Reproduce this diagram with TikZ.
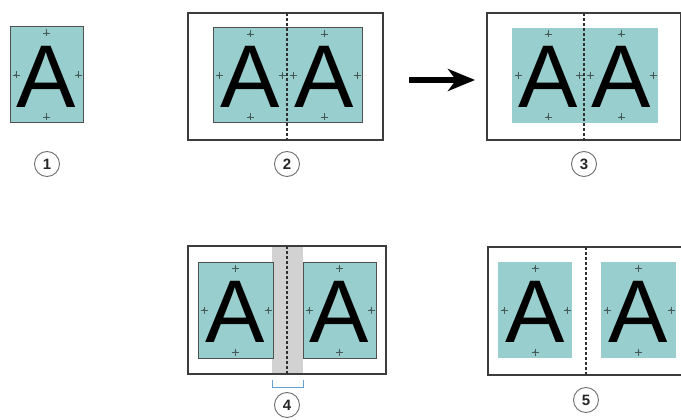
\documentclass[tikz,border=0pt]{standalone}
\usepackage{fontspec}
\setmainfont{Liberation Sans}
\usetikzlibrary{arrows.meta}
\definecolor{tealf}{RGB}{152,206,206}
\definecolor{markc}{RGB}{70,90,90}
\definecolor{framec}{RGB}{60,60,60}
\definecolor{outlc}{RGB}{80,80,80}
\definecolor{bandc}{RGB}{210,210,210}
\definecolor{brackc}{RGB}{100,160,215}
\definecolor{circc}{RGB}{110,110,110}
\tikzset{
  reg/.pic={\draw[line width=0.7pt,markc] (-3.5,0)--(3.5,0) (0,-3.5)--(0,3.5); \fill[markc] (0,0) circle (1.2);},
  letterA/.style={font=\fontsize{89}{89}\selectfont, inner sep=0pt, anchor=base, text=black},
  frame/.style={draw=framec, line width=1.6pt},
  outl/.style={draw=outlc, line width=1pt},
  fold/.style={draw=framec!80!black, line width=1.1pt, dash pattern=on 3pt off 2pt},
  numc/.style={circle, draw=circc, line width=0.9pt, minimum size=25pt, inner sep=0pt, font=\fontsize{15}{15}\selectfont\bfseries, text=black!85},
  bigarrow/.style={line width=6pt, -{Stealth[length=27pt,width=22pt,inset=8pt]}},
  brack/.style={draw=brackc, line width=1pt}
}
\newcommand\apage[4]{%
  \fill[tealf] (#1,#2) rectangle (#3,#4);
  \node[letterA] at ({(#1+#3)/2},{#2+80}) {A};
  \pic at ({(#1+#3)/2},{#2+6}) {reg};
  \pic at ({(#1+#3)/2},{#4-6}) {reg};
  \pic at ({#1+6},{(#2+#4)/2}) {reg};
  \pic at ({#3-5},{(#2+#4)/2}) {reg};
}
\begin{document}
\begin{tikzpicture}[x=1pt,y=-1pt]
\useasboundingbox (0,0) rectangle (681,420);
% Panel 1
\apage{10}{27}{83}{123}
\draw[outl] (10,27) rectangle (83,123);
\node[numc] (n1) at (47,164) {1};
% Panel 2
\draw[frame] (188,13) rectangle (383,140);
\apage{213}{28}{287}{123}
\apage{287}{28}{362}{123}
\draw[outl] (213,28) rectangle (362,123);
\draw[fold] (287,13) -- (287,140);
\node[numc] (n2) at (287,164) {2};
% Arrow
\coordinate (as) at (409,80);
\coordinate (ae) at (475,80);
\draw[bigarrow] (as) -- (ae);
% Panel 3
\apage{512}{28}{584}{123}
\apage{584}{28}{658}{123}
\draw[frame] (487,13) rectangle (681,140);
\draw[fold] (584,13) -- (584,140);
\node[numc] (n3) at (584,164) {3};
% Panel 4
\fill[bandc] (272,246) rectangle (303,374);
\draw[frame] (188,246) rectangle (386,374);
\apage{198}{262}{273}{358}
\apage{303}{262}{376}{358}
\draw[outl] (198,262) rectangle (273,358);
\draw[outl] (303,262) rectangle (376,358);
\draw[fold] (287,246) -- (287,374);
\draw[brack] (272,380) -- (272,387) -- (303,387) -- (303,380);
\node[numc] (n4) at (287,405) {4};
% Panel 5
\draw[frame] (488,247) rectangle (685,375);
\apage{498}{262}{572}{358}
\apage{601}{262}{676}{358}
\draw[fold] (586,247) -- (586,375);
\node[numc] (n5) at (586,400) {5};
\end{tikzpicture}
\end{document}
